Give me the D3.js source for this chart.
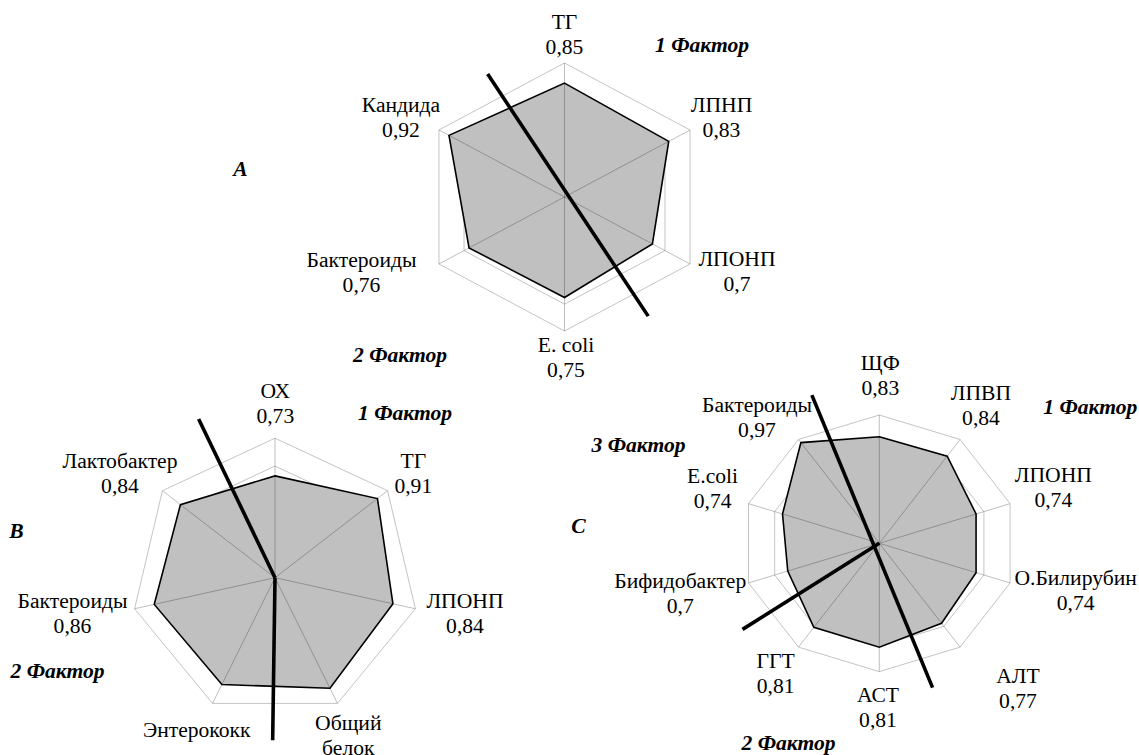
<!DOCTYPE html>
<html>
<head>
<meta charset="utf-8">
<script src="https://cdn.jsdelivr.net/npm/d3@7"></script>
<style>
  body { margin: 0; background: #fff; }
  svg { display: block; }
</style>
</head>
<body>
<svg id="chart" width="1139" height="755"></svg>
<script>
// ---- data ----
const gridTicks = [0.8, 1.0];

// Panel A
const catsA = [["ТГ"], ["ЛПНП"], ["ЛПОНП"], ["E. coli"], ["Бактероиды"], ["Кандида"]];
const valuesA = [0.85, 0.83, 0.70, 0.75, 0.76, 0.92];
const valueLabelsA = ["0,85", "0,83", "0,7", "0,75", "0,76", "0,92"];
// factor axes: endpoints as [angle in degrees, radius in value units]
const factorAxesA = [[[330, 1.06], [147, 1.06]]];
const factorNamesA = ["1 Фактор", "2 Фактор"];

// Panel B
const catsB = [["ОХ"], ["ТГ"], ["ЛПОНП"], ["Общий", "белок"], ["Энтерококк"], ["Бактероиды"], ["Лактобактер"]];
const valuesB = [0.73, 0.91, 0.84, 0.88, 0.85, 0.86, 0.84];
const valueLabelsB = ["0,73", "0,91", "0,84", null, null, "0,86", "0,84"];
const factorAxesB = [[[335, 1.255], [0, 0]], [[0, 0], [180.8, 1.166]]];
const factorNamesB = ["1 Фактор", "2 Фактор"];

// Panel C
const catsC = [["ЩФ"], ["ЛПВП"], ["ЛПОНП"], ["О.Билирубин"], ["АЛТ"], ["АСТ"], ["ГГТ"], ["Бифидобактер"], ["E.coli"], ["Бактероиды"]];
const valuesC = [0.83, 0.84, 0.74, 0.74, 0.77, 0.81, 0.81, 0.70, 0.74, 0.97];
const valueLabelsC = ["0,83", "0,84", "0,74", "0,74", "0,77", "0,81", "0,81", "0,7", "0,74", "0,97"];
const factorAxesC = [[[337, 1.255], [161, 1.19]], [[0, 0], [236, 1.2]]];
const factorNamesC = ["1 Фактор", "2 Фактор", "3 Фактор"];

// ---- layout ----
const FONT = "Liberation Serif";
const TEXT_STRETCH = 1.08;
const LINE_GAP = 25;

const panels = [
  {
    letter: "A", cats: catsA, values: valuesA, valueLabels: valueLabelsA,
    axes: factorAxesA, factorNames: factorNamesA,
    cx: 564.5, cy: 197, rx: 145, ry: 134,
    labelPos: [[0, -168], [157, -85], [172.5, 69], [1.5, 155], [-203, 70], [-163.5, -85]],
    letterPos: [-324, -21],
    factorPos: [[137.5, -145], [-164.5, 165]]
  },
  {
    letter: "B", cats: catsB, values: valuesB, valueLabels: valueLabelsB,
    axes: factorAxesB, factorNames: factorNamesB,
    cx: 275, cy: 577.7, rx: 144, ry: 139.5,
    labelPos: [[0.3, -179.4], [138.3, -109.4], [190, 30.6], [73.3, 152.3], [-78.3, 159], [-202.5, 30.6], [-155, -109.4]],
    letterPos: [-258.5, -39.5],
    factorPos: [[130, -157.7], [-217.5, 100.3]]
  },
  {
    letter: "C", cats: catsC, values: valuesC, valueLabels: valueLabelsC,
    axes: factorAxesC, factorNames: factorNamesC,
    cx: 879.3, cy: 543.3, rx: 137.5, ry: 128.3,
    labelPos: [[1, -173.3], [101.7, -143.3], [174, -61.6], [196.3, 41.7], [138.7, 140], [-1.3, 158.4],
               [-103.7, 125], [-199, 44.7], [-166.7, -60.3], [-122.3, -131.3]],
    letterPos: [-300.8, -10.3],
    factorPos: [[211, -129.3], [-90.8, 206.7], [-240.8, -91.3]]
  }
];

const svg = d3.select("#chart");

function addText(g, x, y, str, emphasis) {
  const t = g.append("text")
    .attr("x", x)
    .attr("y", y)
    .attr("text-anchor", "middle")
    .attr("font-family", FONT)
    .attr("font-size", 20)
    .attr("fill", "#000")
    .text(str);
  if (emphasis) t.attr("font-weight", "bold").attr("font-style", "italic");
  // widen glyphs slightly
  const len = t.node().getComputedTextLength();
  if (len > 0) {
    t.attr("textLength", (len * TEXT_STRETCH).toFixed(1))
     .attr("lengthAdjust", "spacingAndGlyphs");
  }
}

function drawPanel(p) {
  const g = svg.append("g");
  const n = p.cats.length;
  const angle = d3.scaleLinear().domain([0, n]).range([0, 2 * Math.PI]);
  const rX = d3.scaleLinear().domain([0, 1]).range([0, p.rx]);
  const rY = d3.scaleLinear().domain([0, 1]).range([0, p.ry]);
  const at = (a, v) => [p.cx + rX(v) * Math.sin(a), p.cy - rY(v) * Math.cos(a)];
  const idx = d3.range(n);
  const closed = d3.line().curve(d3.curveLinearClosed);

  // grid rings
  g.selectAll(".ring").data(gridTicks).join("path")
    .attr("class", "ring")
    .attr("d", t => closed(idx.map(i => at(angle(i), t))))
    .attr("fill", "none")
    .attr("stroke", "#c4c4c4")
    .attr("stroke-width", 1);

  const pts = idx.map(i => at(angle(i), p.values[i]));

  // filled area
  g.append("path")
    .attr("d", closed(pts))
    .attr("fill", "#c0c0c0")
    .attr("stroke", "none");

  // spokes (translucent, so they darken over the fill)
  g.selectAll(".spoke").data(idx).join("line")
    .attr("class", "spoke")
    .attr("x1", p.cx).attr("y1", p.cy)
    .attr("x2", i => at(angle(i), 1)[0])
    .attr("y2", i => at(angle(i), 1)[1])
    .attr("stroke", "rgba(0,0,0,0.25)")
    .attr("stroke-width", 1);

  // outline
  g.append("path")
    .attr("d", closed(pts))
    .attr("fill", "none")
    .attr("stroke", "#000")
    .attr("stroke-width", 1.6)
    .attr("stroke-linejoin", "miter");

  // factor axes
  const deg = d => d * Math.PI / 180;
  g.selectAll(".factor-axis").data(p.axes).join("line")
    .attr("class", "factor-axis")
    .attr("x1", d => at(deg(d[0][0]), d[0][1])[0])
    .attr("y1", d => at(deg(d[0][0]), d[0][1])[1])
    .attr("x2", d => at(deg(d[1][0]), d[1][1])[0])
    .attr("y2", d => at(deg(d[1][0]), d[1][1])[1])
    .attr("stroke", "#000")
    .attr("stroke-width", 3.6);

  // category labels with values
  idx.forEach(i => {
    const [ox, oy] = p.labelPos[i];
    const lines = p.cats[i].concat(p.valueLabels[i] ? [p.valueLabels[i]] : []);
    lines.forEach((s, k) => addText(g, p.cx + ox, p.cy + oy + k * LINE_GAP, s, false));
  });

  // factor names and panel letter
  p.factorNames.forEach((s, k) => {
    addText(g, p.cx + p.factorPos[k][0], p.cy + p.factorPos[k][1], s, true);
  });
  addText(g, p.cx + p.letterPos[0], p.cy + p.letterPos[1], p.letter, true);
}

panels.forEach(drawPanel);
</script>
</body>
</html>
